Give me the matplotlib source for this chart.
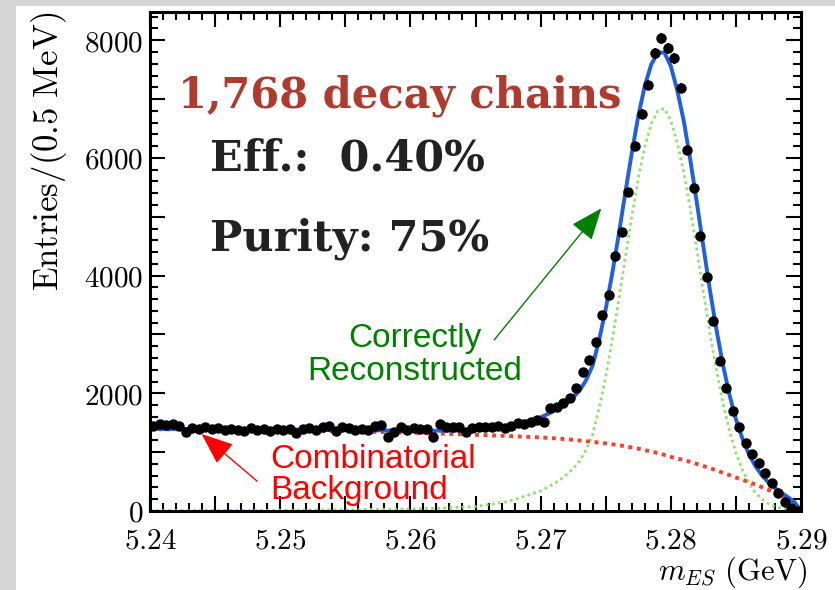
import matplotlib.pyplot as plt
import numpy as np
from matplotlib.patches import Rectangle
from matplotlib.ticker import MultipleLocator, FuncFormatter

plt.rcParams['mathtext.fontset'] = 'cm'

# histogram: 100 bins of 0.5 MeV between 5.24 and 5.29 GeV
bin_edges = np.linspace(5.24, 5.29, 101)
counts = [1440, 1470, 1460, 1480, 1450, 1340, 1410, 1400, 1420, 1390,
          1410, 1370, 1400, 1380, 1360, 1410, 1380, 1400, 1360, 1390,
          1370, 1400, 1330, 1390, 1410, 1380, 1420, 1450, 1360, 1430,
          1410, 1380, 1400, 1370, 1440, 1460, 1250, 1350, 1420, 1380,
          1410, 1400, 1400, 1260, 1470, 1430, 1420, 1420, 1350, 1410,
          1420, 1430, 1420, 1440, 1410, 1440, 1490, 1470, 1520, 1545,
          1510, 1750, 1766, 1840, 1920, 2090, 2360, 2564, 2870, 3330,
          3670, 4330, 4740, 5417, 6198, 6741, 7233, 7777, 8032, 7862,
          7692, 7183, 6130, 5490, 4670, 3973, 3226, 2547, 2089, 1698,
          1426, 1155, 968, 815, 645, 475, 306, 153, 51, 5]

# fit curves
fit_x = [5.240, 5.245, 5.250, 5.255, 5.260, 5.2625, 5.265, 5.2675,
         5.270, 5.2705, 5.271, 5.2715, 5.272, 5.2725, 5.273, 5.2735,
         5.274, 5.2745, 5.275, 5.2755, 5.276, 5.2765, 5.277, 5.2775,
         5.278, 5.2785, 5.279, 5.2795, 5.280, 5.2805, 5.281, 5.2815,
         5.282, 5.2825, 5.283, 5.2835, 5.284, 5.2845, 5.285, 5.2855,
         5.286, 5.2865, 5.287, 5.2875, 5.288, 5.2885, 5.289, 5.2895, 5.290]
bkg = [1390, 1385, 1375, 1355, 1330, 1315, 1295, 1275,
       1250, 1243, 1236, 1228, 1220, 1210, 1198, 1186,
       1174, 1162, 1150, 1135, 1118, 1100, 1080, 1060,
       1035, 1010, 985, 955, 920, 895, 865, 835,
       800, 765, 730, 690, 650, 610, 570, 530,
       490, 450, 405, 360, 315, 265, 210, 140, 0]
sig = [5, 8, 12, 20, 35, 50, 75, 160,
       340, 400, 460, 530, 620, 720, 850, 1040,
       1300, 1750, 2280, 2900, 3580, 4300, 5000, 5650,
       6190, 6580, 6800, 6840, 6640, 6250, 5760, 5130,
       4440, 3730, 3030, 2400, 1840, 1370, 990, 700,
       475, 310, 200, 125, 76, 45, 25, 12, 0]
total = [1395, 1393, 1387, 1375, 1365, 1365, 1370, 1435,
         1590, 1643, 1696, 1758, 1840, 1930, 2048, 2226,
         2474, 2912, 3430, 4035, 4698, 5400, 6080, 6710,
         7225, 7590, 7785, 7795, 7560, 7145, 6625, 5965,
         5240, 4495, 3760, 3090, 2490, 1980, 1560, 1230,
         965, 760, 605, 485, 391, 310, 235, 152, 0]

centers = 0.5 * (bin_edges[:-1] + bin_edges[1:])

fig = plt.figure(figsize=(8.35, 5.9), dpi=100, facecolor='#d6d6d6')
fig.add_artist(Rectangle((16 / 835, 0), 1, 1 - 6 / 590, transform=fig.transFigure,
                         facecolor='white', edgecolor='none', zorder=-5))
ax = fig.add_axes([150 / 835, 79 / 590, 651 / 835, 499 / 590], zorder=1)

ax.plot(fit_x, sig, color='#8fe26a', lw=2.0, ls=(0, (1, 1.2)), zorder=2)
ax.plot(fit_x, bkg, color='#ff3b2a', lw=2.8, ls=(0, (1, 1.2)), zorder=2)
ax.plot(fit_x, total, color='#1f5fe6', lw=2.8, zorder=3)
ax.errorbar(centers, counts, xerr=0.00025, yerr=np.sqrt(counts), fmt='o',
            color='black', ms=6.5, elinewidth=1.4, capsize=0, zorder=4)

ax.set_xlim(5.24, 5.29)
ax.set_ylim(0, 8480)

ax.xaxis.set_major_locator(MultipleLocator(0.005))
ax.xaxis.set_minor_locator(MultipleLocator(0.001))
ax.yaxis.set_major_locator(MultipleLocator(1000))
ax.yaxis.set_minor_locator(MultipleLocator(200))


def xfmt(v, pos):
    if abs(round(v * 100) - v * 100) < 1e-6:
        return '$%.2f$' % v
    return ''


def yfmt(v, pos):
    if int(round(v)) % 2000 == 0:
        return '$%d$' % int(round(v))
    return ''


ax.xaxis.set_major_formatter(FuncFormatter(xfmt))
ax.yaxis.set_major_formatter(FuncFormatter(yfmt))
ax.tick_params(which='both', direction='in', top=True, right=True, width=1.5, labelsize=21)
ax.tick_params(which='major', length=11)
ax.tick_params(which='minor', length=5.5)
ax.tick_params(axis='x', pad=11)
ax.tick_params(axis='y', pad=5)
for s in ax.spines.values():
    s.set_linewidth(2.2)

ax.set_ylabel(r'$\mathrm{Entries/(0.5\ MeV)}$', fontsize=25, loc='top')
ax.yaxis.set_label_coords(-0.125, 1.0)
ax.set_xlabel(r'$m_{ES}\ \mathrm{(GeV)}$', fontsize=22, loc='right')
ax.xaxis.set_label_coords(1.01, -0.088)

ax.text(0.043, 0.808, '1,768 decay chains', transform=ax.transAxes, color='#b03a2e',
        fontsize=30, fontweight='bold', family='DejaVu Serif', va='baseline')
ax.text(0.092, 0.682, 'Eff.:  0.40%', transform=ax.transAxes, color='#222222',
        fontsize=31, fontweight='bold', family='DejaVu Serif', va='baseline')
ax.text(0.092, 0.523, 'Purity: 75%', transform=ax.transAxes, color='#222222',
        fontsize=31, fontweight='bold', family='DejaVu Serif', va='baseline')

ax.text(0.407, 0.3126, 'Correctly\nReconstructed', transform=ax.transAxes, color='#008000',
        fontsize=24, family='Liberation Sans', ha='center', va='center',
        multialignment='center', linespacing=1.05)
ax.annotate('', xy=(5.2748, 5180), xytext=(5.2663, 2870),
            arrowprops=dict(arrowstyle='-|>,head_length=2.0,head_width=0.8',
                            color='#008000', lw=1.0))

ax.text(0.184, 0.072, 'Combinatorial\nBackground', transform=ax.transAxes, color='#ff0000',
        fontsize=24, family='Liberation Sans', ha='left', va='center', linespacing=1.0)
ax.annotate('', xy=(5.2438, 1340), xytext=(5.2484, 475),
            arrowprops=dict(arrowstyle='-|>,head_length=2.0,head_width=0.8',
                            color='#ff0000', lw=1.0))

fig.savefig('out.png', dpi=100, facecolor=fig.get_facecolor())
